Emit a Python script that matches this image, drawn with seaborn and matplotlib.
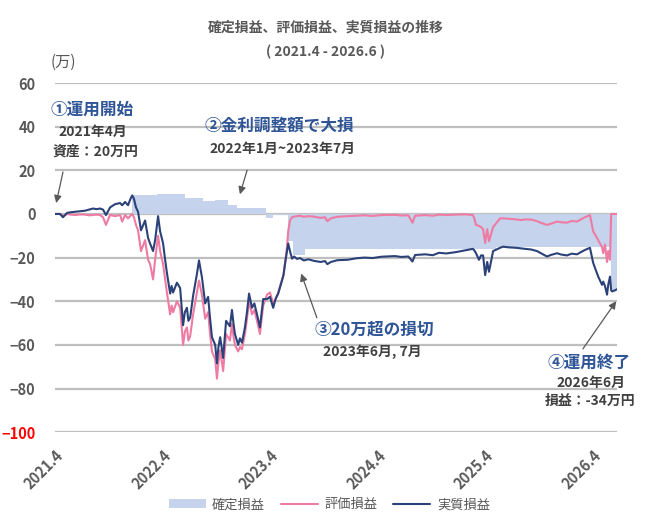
import pandas as pd
import numpy as np
import seaborn as sns
import matplotlib.pyplot as plt
import matplotlib.dates as mdates

# 読み取り値 (万円)
dates = [
    # 2021
    "2021-04-01", "2021-04-18", "2021-04-28", "2021-05-12", "2021-05-25", "2021-06-08", "2021-06-25", "2021-07-12",
    "2021-07-25", "2021-08-08", "2021-08-20", "2021-09-01", "2021-09-11", "2021-09-21", "2021-10-05", "2021-10-22",
    "2021-11-08", "2021-11-15", "2021-11-25", "2021-12-05", "2021-12-12", "2021-12-19", "2021-12-25",
    # 2022
    "2022-01-01", "2022-01-08", "2022-01-18", "2022-02-01", "2022-02-11", "2022-02-18", "2022-02-28", "2022-03-07",
    "2022-03-17", "2022-03-24", "2022-04-03", "2022-04-10", "2022-04-16", "2022-04-27", "2022-05-02", "2022-05-07",
    "2022-05-20", "2022-05-31", "2022-06-10", "2022-06-16", "2022-06-23", "2022-06-28", "2022-07-04", "2022-07-14",
    "2022-07-27", "2022-08-03", "2022-08-13", "2022-08-24", "2022-09-03", "2022-09-09", "2022-09-16", "2022-09-27",
    "2022-10-03", "2022-10-08", "2022-10-14", "2022-10-24", "2022-11-03", "2022-11-16", "2022-11-23", "2022-11-28",
    "2022-12-03", "2022-12-14", "2022-12-20", "2022-12-27",
    # 2023
    "2023-01-06", "2023-01-13", "2023-01-20", "2023-01-30", "2023-02-07", "2023-02-16", "2023-02-26", "2023-03-09",
    "2023-03-22", "2023-04-01", "2023-04-12", "2023-04-20", "2023-04-29", "2023-05-12", "2023-05-17", "2023-05-22",
    "2023-05-29", "2023-06-02", "2023-06-08", "2023-06-15", "2023-06-22", "2023-07-02", "2023-07-12", "2023-07-25",
    "2023-08-10", "2023-08-28", "2023-09-20", "2023-10-05", "2023-10-13", "2023-10-25", "2023-11-16", "2023-12-21",
    # 2024
    "2024-01-20", "2024-02-16", "2024-03-15", "2024-04-14", "2024-05-30", "2024-06-20", "2024-07-14", "2024-07-28",
    "2024-08-06", "2024-09-10", "2024-10-05", "2024-10-26", "2024-11-20", "2024-12-22",
    # 2025
    "2025-01-25", "2025-02-18", "2025-02-22", "2025-03-01", "2025-03-11", "2025-03-18", "2025-03-25", "2025-04-01",
    "2025-04-08", "2025-04-14", "2025-04-28", "2025-05-22", "2025-06-01", "2025-06-20", "2025-07-15", "2025-08-01",
    "2025-08-15", "2025-09-05", "2025-09-24", "2025-10-10", "2025-10-28", "2025-11-10", "2025-12-01", "2025-12-15",
    # 2026
    "2026-01-04", "2026-01-20", "2026-02-07", "2026-02-20", "2026-03-06", "2026-03-23", "2026-04-03", "2026-04-20",
    "2026-05-03", "2026-05-07", "2026-05-13", "2026-05-20", "2026-05-24", "2026-05-30", "2026-06-03", "2026-06-06",
    "2026-06-16", "2026-06-23",
]

jisshitsu = [
    # 2021
    0, 0, -1.5, 0.5, 0.8, 1, 1.2, 1.5,
    2.0, 2.5, 2.2, 2.5, 2, -0.5, 3, 4.5,
    5, 4, 5.5, 4, 6.5, 8.5, 7,
    # 2022
    3, 1, -7.5, -3, -11, -13.6, -17, -12,
    -1, -8, -13.5, -21, -27, -36.5, -33, -36,
    -31.5, -34, -51, -45, -43, -49, -47.5, -37.5,
    -27.5, -21.3, -29, -41, -38, -47, -56.5, -60,
    -68.5, -61, -56.5, -66, -49, -51.5, -44, -50,
    -55, -60, -57, -59,
    # 2023
    -52, -45, -36.5, -43, -41, -46, -52, -39,
    -39, -38, -43, -39, -36.5, -30.5, -28, -23,
    -17, -13.5, -17, -20.5, -19.5, -20.6, -20.2, -21.3,
    -20.8, -21.5, -22, -21.6, -23, -22, -21.2, -21,
    # 2024
    -20.3, -20, -20.2, -19.6, -19.3, -19.7, -19.5, -21.8,
    -18.8, -18.5, -18.9, -17.8, -18.1, -17.5,
    # 2025
    -16.6, -16, -16.5, -18, -21, -19, -19, -28,
    -22, -26.5, -17, -15.5, -15, -15.3, -15.5, -15.8,
    -16, -16.3, -17, -18.2, -19.5, -18.8, -18, -18.6,
    # 2026
    -19, -18.2, -18.5, -17.5, -16.5, -15.5, -22.5, -28.7,
    -32.5, -31, -33, -37, -32.5, -28.7, -35, -35.5,
    -35, -34.5,
]

hyouka = [
    # 2021
    0, 0, -1, 0, -0.3, -0.5, -0.2, -0.3,
    -0.6, -0.5, -0.3, -0.5, -1.5, -5, -0.5, -1,
    -0.5, -3.5, -0.5, -2, -1, 0, -1.5,
    # 2022
    -5, -7.5, -17, -12, -21, -23, -30, -21,
    -10, -17, -23, -30, -36, -46, -42, -45,
    -40, -43, -60, -54, -52, -58, -56, -46,
    -36, -30.5, -37, -48, -45, -54, -63, -66.5,
    -75.5, -68, -62.5, -72, -55, -58, -50.5, -56,
    -60, -63, -61, -62,
    # 2023
    -55, -48, -40, -46, -44, -49, -55, -42,
    -37, -36, -41, -39, -36, -30, -28, -23,
    -15, -8, -3, -1.5, -1.2, -1, -0.8, -1.3,
    -1, -1.2, -1.8, -1.5, -3.3, -2, -1.3, -1,
    # 2024
    -0.8, -0.6, -0.9, -0.5, -0.4, -0.7, -0.6, -4,
    -0.8, -0.5, -0.8, -0.3, -0.5, -0.3,
    # 2025
    -0.2, -0.5, -1.5, -5, -5.5, -6, -7, -13.3,
    -7, -12.5, -6, -2, -2, -2.2, -2.5, -2.8,
    -2.5, -2.6, -3.3, -4.2, -5, -4.5, -3.5, -3.8,
    # 2026
    -4, -3.2, -3.5, -2.5, -1.5, -0.5, -8, -12,
    -15.3, -18, -14, -22, -17, -21, 0, 0,
    0, 0,
]

# 確定損益 (変化した日と値)
kakutei_dates = ["2021-04-01", "2021-12-19", "2022-03-14", "2022-06-17", "2022-08-17", "2022-09-27", "2022-11-10",
                 "2022-12-10", "2023-03-19", "2023-04-12", "2023-06-02", "2023-06-18", "2023-07-29", "2025-05-08",
                 "2026-06-03", "2026-06-23"]
kakutei = [0, 8.5, 9.0, 7.3, 6.0, 6.5, 4.0, 2.8, -2.0, -0.5, -12.5, -19.0, -16.0, -15.3, -35.0, -35.0]

tick_dates = ["2021-04-01", "2022-04-01", "2023-04-01", "2024-04-01", "2025-04-01", "2026-04-01"]
tick_labels = ["2021.4", "2022.4", "2023.4", "2024.4", "2025.4", "2026.4"]

bar_color = "#C5D3EC"
pink = "#EF7BA3"
navy = "#2B4279"
blue_txt = "#2F5597"
gray_txt = "#595959"
dark_txt = "#404040"

sns.set_theme(style="white")
plt.rcParams['font.family'] = ['Noto Sans CJK JP', 'DejaVu Sans']

df = pd.DataFrame({"date": pd.to_datetime(dates), "評価損益": hyouka, "実質損益": jisshitsu})

fig = plt.figure(figsize=(6.52, 5.27), dpi=100)
ax = fig.add_axes([0.0844, 0.180, 0.862, 0.6624])

ax.fill_between(pd.to_datetime(kakutei_dates), kakutei, 0, step="post", color=bar_color, lw=0,
                label="確定損益", zorder=2)
sns.lineplot(data=df, x="date", y="評価損益", color=pink, lw=1.5, label="評価損益", ax=ax, zorder=3)
sns.lineplot(data=df, x="date", y="実質損益", color=navy, lw=1.5, label="実質損益", ax=ax, zorder=4)

ax.set_xlim(pd.Timestamp("2021-04-01"), pd.Timestamp("2026-06-23"))
ax.set_ylim(-100, 60)
ax.set_yticks(range(-100, 61, 20))
ax.set_xticks(pd.to_datetime(tick_dates))
ax.set_xticklabels(tick_labels, rotation=45, ha="right", va="top", rotation_mode="anchor")
ax.set_xlabel("")
ax.set_ylabel("")

ax.grid(axis="y", color="#BFBFBF", lw=1.6, zorder=0)
ax.grid(axis="x", visible=False)
ax.set_axisbelow(True)
for s in ax.spines.values():
    s.set_visible(False)
ax.tick_params(axis="y", length=0, pad=14, labelsize=10.5, labelcolor=gray_txt)
ax.tick_params(axis="x", length=0, pad=11, labelsize=10.5, labelcolor=gray_txt)
for lab in ax.get_yticklabels() + ax.get_xticklabels():
    lab.set_fontweight("bold")
ax.get_yticklabels()[0].set_color("red")

handles, labels = ax.get_legend_handles_labels()
ax.get_legend().remove()
fig.legend(handles, labels, loc="center", bbox_to_anchor=(0.505, 0.042), ncol=3, frameon=False,
           fontsize=9.5, handlelength=2.8, handletextpad=0.5, columnspacing=1.2, labelcolor=gray_txt)

fig.text(0.5, 0.947, "確定損益、評価損益、実質損益の推移", ha="center", va="center", fontsize=10,
         color=gray_txt, fontweight="bold")
fig.text(0.5, 0.901, "( 2021.4 - 2026.6 )", ha="center", va="center", fontsize=10, color=gray_txt,
         fontweight="bold")
fig.text(0.078, 0.882, "(万)", ha="left", va="center", fontsize=11, color=gray_txt)

# 注記
notes = [
    (0.141, 0.791, "①運用開始", [(0.143, 0.750, "2021年4月"), (0.146, 0.713, "資産：20万円")]),
    (0.429, 0.761, "②金利調整額で大損", [(0.433, 0.717, "2022年1月~2023年7月")]),
    (0.574, 0.374, "③20万超の損切", [(0.571, 0.332, "2023年6月, 7月")]),
    (0.903, 0.311, "④運用終了", [(0.906, 0.273, "2026年6月"), (0.905, 0.239, "損益：-34万円")]),
]
for x, y, head, subs in notes:
    fig.text(x, y, head, ha="center", va="center", fontsize=12, color=blue_txt, fontweight="bold")
    for sx, sy, s in subs:
        fig.text(sx, sy, s, ha="center", va="center", fontsize=10, color=dark_txt, fontweight="bold")

arrows = [
    ("2021-04-05", 5, 0.0966, 0.6736),
    ("2022-12-20", 9, 0.379, 0.677),
    ("2023-07-16", -27.3, 0.486, 0.397),
    ("2026-06-20", -40, 0.894, 0.338),
]
for d, v, tx, ty in arrows:
    ax.annotate("", xy=(mdates.date2num(pd.Timestamp(d)), v), xycoords="data",
                xytext=(tx, ty), textcoords="figure fraction",
                arrowprops=dict(arrowstyle="-|>", color=gray_txt, lw=0.9, mutation_scale=11,
                                shrinkA=0, shrinkB=0), annotation_clip=False)

fig.savefig("out.png", dpi=100)
